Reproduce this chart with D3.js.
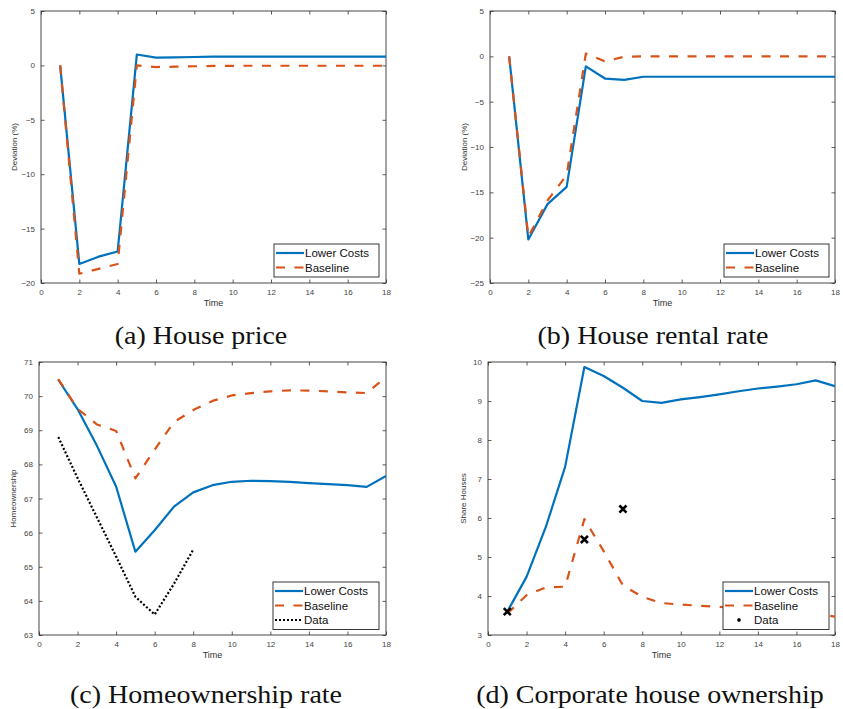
<!DOCTYPE html>
<html>
<head>
<meta charset="utf-8">
<script src="https://cdn.jsdelivr.net/npm/d3@7"></script>
<style>
  body { margin: 0; background: #fff; }
  svg { display: block; }
</style>
</head>
<body>
<div id="chart"></div>
<script>
// time axis shared by all panels
const time = [1, 2, 3, 4, 5, 6, 7, 8, 9, 10, 11, 12, 13, 14, 15, 16, 17, 18];
const xTicks = [0, 2, 4, 6, 8, 10, 12, 14, 16, 18];

// (a) house price, deviation %
const priceLower = [0, -18.25, -17.58, -17.1, 1.0, 0.72, 0.74, 0.77, 0.8, 0.8, 0.8, 0.8, 0.8, 0.8, 0.8, 0.8, 0.8, 0.8];
const priceBase = [0, -19.15, -18.7, -18.25, 0.0, -0.15, -0.12, -0.08, -0.05, -0.04, -0.03, -0.03, -0.03, -0.03, -0.03, -0.03, -0.03, -0.03];

// (b) house rental rate, deviation %
const rentLower = [0, -20.2, -16.3, -14.4, -1.1, -2.45, -2.6, -2.25, -2.25, -2.25, -2.25, -2.25, -2.25, -2.25, -2.25, -2.25, -2.25, -2.25];
const rentBase = [0, -19.9, -15.9, -13.1, 0.3, -0.55, -0.05, 0, 0, 0, 0, 0, 0, 0, 0, 0, 0, 0];

// (c) homeownership rate
const ownLower = [70.48, 69.62, 68.55, 67.35, 65.44, 66.07, 66.76, 67.18, 67.39, 67.49, 67.52, 67.51, 67.49, 67.45, 67.42, 67.39, 67.34, 67.66];
const ownBase = [70.5, 69.63, 69.17, 68.98, 67.59, 68.43, 69.24, 69.59, 69.86, 70.02, 70.09, 70.14, 70.17, 70.16, 70.14, 70.11, 70.09, 70.56];
const ownDataTime = [1, 2, 3, 4, 5, 6, 7, 8];
const ownData = [68.8, 67.6, 66.45, 65.3, 64.12, 63.6, 64.5, 65.5];

// (d) corporate house ownership, share of houses
const corpLower = [3.6, 4.49, 5.77, 7.31, 9.87, 9.64, 9.34, 9.0, 8.95, 9.04, 9.1, 9.17, 9.25, 9.32, 9.37, 9.43, 9.53, 9.38];
const corpBase = [3.55, 4.02, 4.22, 4.24, 5.97, 5.15, 4.27, 3.98, 3.82, 3.78, 3.75, 3.72, 3.69, 3.66, 3.62, 3.58, 3.55, 3.47];
const corpDataTime = [1, 5, 7];
const corpData = [3.6, 5.45, 6.23];

const BLUE = '#0072bd';
const ORANGE = '#d95319';
const AXIS = '#333';

const svg = d3.select('#chart').append('svg')
    .attr('width', 843)
    .attr('height', 709);

function drawPanel(opts) {
    const { left, right, top, bottom } = opts.box;
    const x = d3.scaleLinear().domain([0, 18]).range([left, right]);
    const y = d3.scaleLinear().domain(opts.yDomain).range([bottom, top]);
    const g = svg.append('g');

    // axes, ticks pointing inwards on all four sides
    const axisText = sel => sel.selectAll('text')
        .attr('font-family', 'Liberation Sans, Arial, sans-serif')
        .attr('font-size', 8)
        .attr('fill', '#444');

    g.append('g')
        .attr('transform', `translate(0,${bottom})`)
        .call(d3.axisBottom(x).tickValues(xTicks).tickSizeInner(-3.5).tickSizeOuter(0).tickPadding(6))
        .call(axisText);
    g.append('g')
        .attr('transform', `translate(0,${top})`)
        .call(d3.axisTop(x).tickValues(xTicks).tickSizeInner(-3.5).tickSizeOuter(0).tickFormat(''));
    g.append('g')
        .attr('transform', `translate(${left},0)`)
        .call(d3.axisLeft(y).tickValues(opts.yTicks).tickFormat(d3.format('d'))
            .tickSizeInner(-3.5).tickSizeOuter(0).tickPadding(6))
        .call(axisText);
    g.append('g')
        .attr('transform', `translate(${right},0)`)
        .call(d3.axisRight(y).tickValues(opts.yTicks).tickSizeInner(-3.5).tickSizeOuter(0).tickFormat(''));
    g.selectAll('.domain').remove();
    g.selectAll('.tick line').attr('stroke', AXIS).attr('stroke-width', 0.8);

    g.append('rect')
        .attr('x', left).attr('y', top)
        .attr('width', right - left).attr('height', bottom - top)
        .attr('fill', 'none')
        .attr('stroke', AXIS)
        .attr('stroke-width', 0.9);

    // axis titles
    g.append('text')
        .attr('x', (left + right) / 2)
        .attr('y', bottom + 23)
        .attr('text-anchor', 'middle')
        .attr('font-family', 'Liberation Sans, Arial, sans-serif')
        .attr('font-size', 9)
        .attr('fill', '#333')
        .text('Time');
    g.append('text')
        .attr('transform', `translate(${opts.yLabelX},${(top + bottom) / 2}) rotate(-90)`)
        .attr('text-anchor', 'middle')
        .attr('font-family', 'Liberation Sans, Arial, sans-serif')
        .attr('font-size', 8)
        .attr('fill', '#333')
        .text(opts.yLabel);

    // series
    const clip = 'clip' + opts.id;
    svg.append('clipPath').attr('id', clip)
        .append('rect')
        .attr('x', left).attr('y', top)
        .attr('width', right - left).attr('height', bottom - top);
    const plot = g.append('g').attr('clip-path', `url(#${clip})`);

    const line = d3.line().x(d => x(d[0])).y(d => y(d[1]));

    opts.series.forEach(s => {
        if (s.marker) {
            plot.selectAll(null)
                .data(d3.zip(s.t, s.v))
                .join('path')
                .attr('transform', d => `translate(${x(d[0])},${y(d[1])})`)
                .attr('d', d3.symbol(d3.symbolX, 34))
                .attr('fill', 'none')
                .attr('stroke', '#000')
                .attr('stroke-width', 2.6);
        } else {
            plot.append('path')
                .datum(d3.zip(s.t, s.v))
                .attr('d', line)
                .attr('fill', 'none')
                .attr('stroke', s.color)
                .attr('stroke-width', 2.2)
                .attr('stroke-dasharray', s.dash || null)
                .attr('stroke-linejoin', 'round');
        }
    });

    // legend
    const lg = opts.legend;
    const rowH = 14.5;
    const lh = opts.series.length * rowH + 4;
    const legend = g.append('g').attr('transform', `translate(${lg.x},${lg.y})`);
    legend.append('rect')
        .attr('width', lg.w).attr('height', lh)
        .attr('fill', '#fff')
        .attr('stroke', '#222')
        .attr('stroke-width', 0.9);
    opts.series.forEach((s, i) => {
        const cy = 9 + i * rowH;
        if (s.marker) {
            legend.append('path')
                .attr('transform', `translate(16,${cy})`)
                .attr('d', d3.symbol(d3.symbolAsterisk, 8))
                .attr('fill', 'none')
                .attr('stroke', '#000')
                .attr('stroke-width', 2);
        } else {
            legend.append('line')
                .attr('x1', 2).attr('x2', 30)
                .attr('y1', cy).attr('y2', cy)
                .attr('stroke', s.color)
                .attr('stroke-width', 2.2)
                .attr('stroke-dasharray', s.dash || null);
        }
        legend.append('text')
            .attr('x', 31)
            .attr('y', cy + 4)
            .attr('font-family', 'Liberation Sans, Arial, sans-serif')
            .attr('font-size', 11.5)
            .attr('fill', '#111')
            .text(s.name);
    });

    // caption below panel (book-style serif, a bit wider than Times)
    const cap = svg.append('text')
        .attr('x', opts.caption.x)
        .attr('y', opts.caption.y)
        .attr('text-anchor', 'middle')
        .attr('font-family', 'Liberation Serif, DejaVu Serif, serif')
        .attr('font-size', 25)
        .attr('fill', '#111')
        .text(opts.caption.text);
    const w = cap.node().getComputedTextLength();
    cap.attr('textLength', w * 1.12).attr('lengthAdjust', 'spacingAndGlyphs');
}

drawPanel({
    id: 'a',
    box: { left: 41, right: 386, top: 11, bottom: 283 },
    yDomain: [-20, 5], yTicks: [-20, -15, -10, -5, 0, 5],
    yLabel: 'Deviation (%)', yLabelX: 17,
    series: [
        { name: 'Lower Costs', t: time, v: priceLower, color: BLUE },
        { name: 'Baseline', t: time, v: priceBase, color: ORANGE, dash: '9,9.5' }
    ],
    legend: { x: 274, y: 244, w: 105 },
    caption: { x: 201, y: 344, text: '(a) House price' }
});

drawPanel({
    id: 'b',
    box: { left: 490, right: 835, top: 11, bottom: 283 },
    yDomain: [-25, 5], yTicks: [-25, -20, -15, -10, -5, 0, 5],
    yLabel: 'Deviation (%)', yLabelX: 467,
    series: [
        { name: 'Lower Costs', t: time, v: rentLower, color: BLUE },
        { name: 'Baseline', t: time, v: rentBase, color: ORANGE, dash: '9,9.5' }
    ],
    legend: { x: 724, y: 244, w: 105 },
    caption: { x: 653, y: 344, text: '(b) House rental rate' }
});

drawPanel({
    id: 'c',
    box: { left: 39, right: 386, top: 362, bottom: 635 },
    yDomain: [63, 71], yTicks: [63, 64, 65, 66, 67, 68, 69, 70, 71],
    yLabel: 'Homeownership', yLabelX: 16,
    series: [
        { name: 'Lower Costs', t: time, v: ownLower, color: BLUE },
        { name: 'Baseline', t: time, v: ownBase, color: ORANGE, dash: '9,9.5' },
        { name: 'Data', t: ownDataTime, v: ownData, color: '#000', dash: '2,2' }
    ],
    legend: { x: 273, y: 582, w: 106 },
    caption: { x: 206, y: 703, text: '(c) Homeownership rate' }
});

drawPanel({
    id: 'd',
    box: { left: 488, right: 835, top: 362, bottom: 635 },
    yDomain: [3, 10], yTicks: [3, 4, 5, 6, 7, 8, 9, 10],
    yLabel: 'Share Houses', yLabelX: 466,
    series: [
        { name: 'Lower Costs', t: time, v: corpLower, color: BLUE },
        { name: 'Baseline', t: time, v: corpBase, color: ORANGE, dash: '9,9.5' },
        { name: 'Data', t: corpDataTime, v: corpData, marker: true }
    ],
    legend: { x: 723, y: 582, w: 106 },
    caption: { x: 650, y: 703, text: '(d) Corporate house ownership' }
});
</script>
</body>
</html>
